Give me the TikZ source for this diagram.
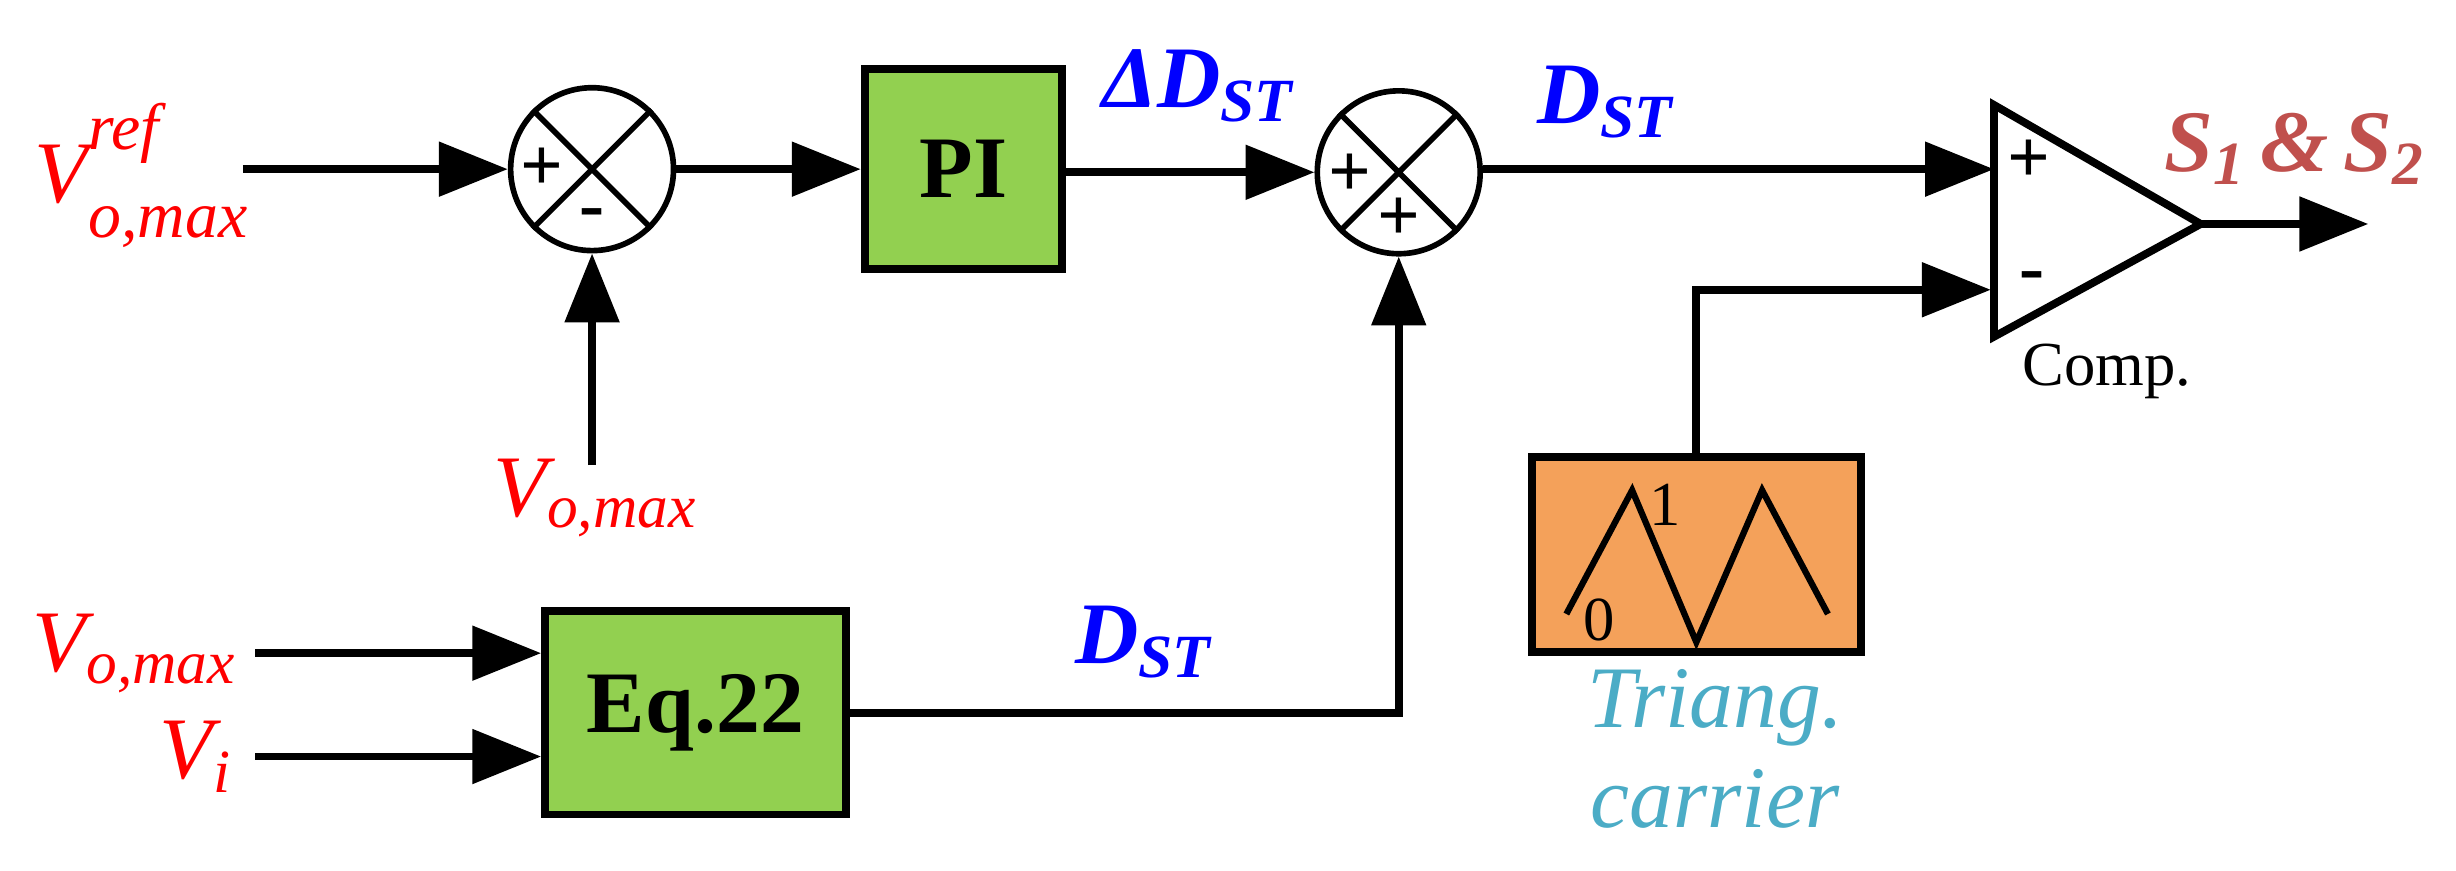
\documentclass[tikz,border=0pt]{standalone}
\usepackage{fontspec}
\setmainfont{Liberation Serif}
\usetikzlibrary{arrows.meta}
\definecolor{grn}{HTML}{92D050}
\definecolor{org}{HTML}{F4A15A}
\definecolor{srd}{HTML}{C0504D}
\definecolor{cyn}{HTML}{4BACC6}
\newcommand{\sbx}[1]{\textsubscript{#1}}
\begin{document}
\begin{tikzpicture}[x=0.5pt,y=-0.5pt,
  ln/.style={line width=2.5pt},
  ar/.style={ln,-{Triangle[length=22pt,width=17pt]}},
  blk/.style={draw,line width=2.5pt,fill=grn,minimum width=63pt,inner sep=0pt,font=\fontsize{28}{30}\selectfont\bfseries},
  sum/.style={draw,circle,line width=1.8pt,minimum size=52pt,inner sep=0pt},
  lab/.style={text=red,font=\fontsize{28}{32}\selectfont\itshape},
  blu/.style={text=blue,font=\fontsize{28}{32}\selectfont\bfseries\itshape},
  sg/.style={font=\fontsize{24}{26}\selectfont\bfseries}]
\useasboundingbox (0,0) rectangle (1568,556);
% summers
\node[sum] (s1) at (378,108) {};
\draw[line width=1.8pt] (s1.north west)--(s1.south east) (s1.north east)--(s1.south west);
\node[sg] at (346,108) {+}; \node[sg] at (378,140) {-};
\node[sum] (s2) at (893,110) {};
\draw[line width=1.8pt] (s2.north west)--(s2.south east) (s2.north east)--(s2.south west);
\node[sg] at (862,112) {+}; \node[sg] at (893,140) {+};
% blocks
\node[blk,minimum height=64pt,minimum width=63pt] (pi) at (615,108) {PI};
\node[blk,minimum height=65pt,minimum width=96pt] (eq) at (444,455) {Eq.22};
% inputs
\coordinate (a0) at (155,108);
\draw[ar] (a0) -- (s1.west);
\node[lab,anchor=east] (lref) at (165,112) {V\makebox[0pt][l]{\raisebox{0.6em}{\fontsize{21}{23}\selectfont ref}}\raisebox{-0.4em}{\fontsize{21}{23}\selectfont o,max}};
\coordinate (b0) at (378,297);
\draw[ar] (b0) -- (s1.south);
\node[lab] (lb) at (380,318) {V\sbx{o,max}};
\draw[ar] (s1.east) -- (pi.west);
\draw[ar] (pi.east|-s2) -- (s2.west);
\node[blu] at (765,55) {ΔD\sbx{ST}};
% comparator
\coordinate (cp1) at (1273,67); \coordinate (cp2) at (1273,215); \coordinate (co) at (1405,143);
\draw[line width=2.5pt,line join=miter] (cp1)--(cp2)--(co)--cycle;
\node[sg] at (1295,103) {+}; \node[sg] at (1297,180) {-};
\coordinate (cin1) at (1273,108); \coordinate (cin2) at (1271,185);
\draw[ar] (s2.east|-cin1) -- (cin1);
\node[blu] at (1025,65) {D\sbx{ST}};
\coordinate (out) at (1512,143);
\draw[ar] (co) -- (out);
\node[text=srd,font=\fontsize{28}{32}\selectfont\bfseries\itshape] at (1465,95) {S\sbx{1}\,\&\,S\sbx{2}};
\node[font=\fontsize{20}{22}\selectfont] at (1345,237) {Comp.};
% carrier
\node[draw,line width=2.5pt,fill=org,minimum width=105pt,minimum height=62pt,inner sep=0pt] (car) at (1083,354) {};
\draw[line width=2pt] (1000,392)--(1042,313)--(1083,410)--(1125,313)--(1167,392);
\node[font=\fontsize{20}{22}\selectfont] at (1063,322) {1};
\node[font=\fontsize{20}{22}\selectfont] at (1021,396) {0};
\draw[ar] (car.north) |- (cin2);
\node[text=cyn,font=\fontsize{28}{32}\selectfont\itshape,align=center] at (1095,478) {Triang.\\carrier};
% eq inputs
\coordinate (e1) at (163,417); \coordinate (e2) at (163,483);
\draw[ar] (e1) -- (eq.west|-e1);
\draw[ar] (e2) -- (eq.west|-e2);
\node[lab,anchor=east] at (158,417) {V\sbx{o,max}};
\node[lab,anchor=east] at (155,483) {V\sbx{i}};
\draw[ar] (eq.east) -| (s2.south);
\node[blu] at (730,410) {D\sbx{ST}};
\end{tikzpicture}
\end{document}
